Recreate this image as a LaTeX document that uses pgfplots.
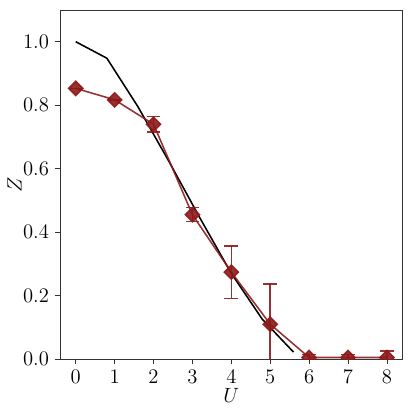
\documentclass[border=0pt]{standalone}
\usepackage{pgfplots}
\pgfplotsset{compat=1.18}
\definecolor{dred}{RGB}{140,25,25}
\begin{document}
\begin{tikzpicture}
\begin{axis}[
  scale only axis,
  width=199pt, height=203pt,
  xmin=-0.4, xmax=8.4, ymin=0, ymax=1.1,
  xtick={0,1,2,3,4,5,6,7,8},
  ytick={0,0.2,0.4,0.6,0.8,1.0},
  yticklabel style={/pgf/number format/.cd, fixed, fixed zerofill, precision=1},
  tick label style={font=\fontsize{12.5}{14}\selectfont},
  label style={font=\fontsize{12.5}{14}\selectfont},
  tick pos=left, tick align=outside,
  major tick length=3pt,
  xlabel={$U$}, ylabel={$Z$},
  xlabel style={yshift=4pt},
  ylabel style={yshift=-6pt},
  axis line style={black!80},
  every tick/.style={black!80},
  clip marker paths=true,
]
\addplot[black, line width=0.9pt] coordinates {
(0,1.0) (0.8,0.948) (1.6,0.795) (2.4,0.622) (3.2,0.443) (4.0,0.27) (4.8,0.125) (5.6,0.022)
};
\addplot[dred, opacity=0.9, line width=0.9pt, mark=square*, mark size=2.9pt,
  mark options={rotate=45, solid, fill=dred},
  error bars/.cd, y dir=both, y explicit,
  error bar style={line width=0.9pt, dred},
  error mark options={rotate=90, mark size=4pt, line width=0.9pt, dred}]
coordinates {
(0,0.853) +- (0,0.0)
(1,0.817) +- (0,0.0)
(2,0.740) +- (0,0.025)
(3,0.455) +- (0,0.022)
(4,0.274) +- (0,0.083)
(5,0.110) +- (0,0.126)
(6,0.005) +- (0,0.010)
(7,0.005) +- (0,0.010)
(8,0.005) +- (0,0.020)
};
\coordinate (ll) at (rel axis cs:0,0);
\coordinate (ur) at (rel axis cs:1,1);
\end{axis}
\pgfresetboundingbox
\path ([shift={(-35pt,-32.5pt)}]ll) rectangle ([shift={(7pt,5.8pt)}]ur);
\end{tikzpicture}
\end{document}
